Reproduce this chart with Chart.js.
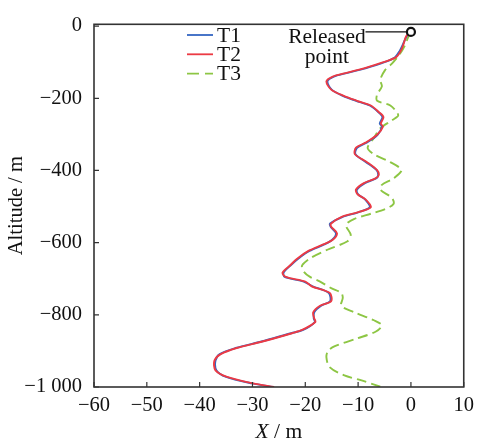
<!DOCTYPE html>
<html>
<head>
<meta charset="utf-8">
<script src="https://cdn.jsdelivr.net/npm/chart.js@4/dist/chart.umd.min.js"></script>
<style>
html,body{margin:0;padding:0;background:#fff;}
#wrap{width:480px;height:443px;}
</style>
</head>
<body>
<div id="wrap"><canvas id="c" width="480" height="443"></canvas></div>
<script>
// ---- data (X in m, altitude in m) ----
const altT2 = [-16,-28,-50,-68,-86,-100,-117,-131,-140,-153,-176,-194,-207,-220,-238,-252,-270,-279,-301,-323,-337,-355,-377,-399,-413,-422,-435,-453,-466,-480,-502,-516,-529,-547,-556,-574,-592,-605,-623,-645,-662,-683,-695,-708,-721,-739,-762,-775,-793,-810,-820,-842,-851,-874,-892,-909,-927,-954,-972,-990,-1000];
const xT2   = [0,-0.9,-1.4,-1.9,-2.8,-5.2,-8.9,-12.6,-14.8,-16,-15.1,-12.6,-10.2,-7.6,-6.1,-5.2,-5.7,-5.3,-6.4,-8.6,-10.4,-10.6,-8.3,-6.4,-6.1,-6.7,-8.9,-10.4,-10.1,-8.6,-7.6,-10.1,-13.2,-15.1,-15.1,-14,-14.8,-16.6,-19.4,-21.6,-22.8,-24.3,-23.7,-20,-18.8,-15.4,-15.1,-17.2,-18.5,-18.3,-18.1,-20.6,-22.5,-28.1,-33,-36,-37.2,-37,-34.8,-29.9,-25.9];
const altT1 = altT2;
const xT1   = [0,-0.8,-1.5,-2.1,-3.0,-5.0,-8.6,-12.4,-14.6,-15.8,-15.0,-12.8,-10.4,-7.8,-6.2,-5.4,-5.9,-5.5,-6.3,-8.4,-10.2,-10.5,-8.5,-6.5,-6.2,-6.6,-8.7,-10.2,-10.0,-8.7,-7.8,-10.0,-13.0,-15.3,-15.2,-14.2,-14.9,-16.4,-19.2,-21.4,-22.7,-24.1,-23.9,-20.3,-18.6,-15.6,-15.3,-17.0,-18.3,-18.4,-18.2,-20.4,-22.7,-28.3,-33.2,-36.2,-37.0,-36.8,-35.0,-30.1,-26.1];
const altT3 = [-16,-32,-55,-77,-104,-122,-149,-167,-189,-207,-220,-247,-261,-283,-310,-337,-355,-377,-399,-422,-440,-453,-476,-493,-507,-520,-534,-551,-578,-596,-619,-641,-663,-680,-695,-708,-726,-739,-753,-775,-793,-815,-829,-847,-865,-887,-900,-918,-945,-968,-981,-999];
const xT3   = [0,-0.55,-1.2,-2.1,-3.6,-4.9,-5.8,-5.5,-6.4,-6.4,-3.9,-2.4,-3.6,-5.8,-7,-8.2,-7,-3.9,-1.8,-3.3,-5.5,-5.8,-3.6,-3.3,-4.9,-7.6,-10.7,-12.3,-11.4,-12,-15.7,-18.8,-20.6,-20.3,-19.1,-17.2,-15.1,-13.2,-12.9,-13.2,-10.7,-7,-5.5,-6.7,-10.1,-14.4,-15.7,-16,-15.4,-12.6,-9.5,-5.8];
const releasedX = [0];
const releasedAlt = [-16];
const seriesNames = ['T1','T2','T3'];
const xTicks = [-60,-50,-40,-30,-20,-10,0,10];
const yTicks = [-1000,-800,-600,-400,-200,0];

const COLORS = ['#3466c2','#ec3a44','#8dc644'];
const FONT = '"Liberation Serif", "DejaVu Serif", serif';

function pts(xs, ys){ return xs.map((x,i)=>({x:x, y:ys[i]})); }
function fmt(v){
  const a = Math.abs(v);
  const s = a >= 1000 ? Math.floor(a/1000) + ' ' + String(a%1000).padStart(3,'0') : String(a);
  return v < 0 ? '\u2212' + s : s;
}

const deco = {
  id:'deco',
  afterDatasetsDraw(chart){
    const ctx = chart.ctx, a = chart.chartArea;
    const xs = chart.scales.x, ys = chart.scales.y;
    ctx.save();
    // inward ticks
    ctx.strokeStyle = '#333'; ctx.lineWidth = 1.2;
    ctx.beginPath();
    xTicks.forEach(v=>{ const p = xs.getPixelForValue(v); ctx.moveTo(p, a.bottom); ctx.lineTo(p, a.bottom-5); });
    yTicks.forEach(v=>{ const p = ys.getPixelForValue(v); ctx.moveTo(a.left, p); ctx.lineTo(a.left+5, p); });
    ctx.stroke();
    // frame
    ctx.strokeStyle = '#333'; ctx.lineWidth = 1.6;
    ctx.strokeRect(a.left, a.top, a.right-a.left, a.bottom-a.top);
    // legend
    ctx.font = '21.5px ' + FONT; ctx.fillStyle = '#111';
    ctx.textBaseline = 'middle'; ctx.textAlign = 'left';
    const lx = 187, ly = 35, step = 19.3;
    seriesNames.forEach((n,i)=>{
      const y = ly + i*step;
      ctx.strokeStyle = COLORS[i]; ctx.lineWidth = 1.8;
      ctx.setLineDash(i===2 ? [12,6] : []);
      ctx.beginPath(); ctx.moveTo(lx, y); ctx.lineTo(lx+26, y); ctx.stroke();
      ctx.setLineDash([]);
      ctx.fillText(n, lx+30, y+1);
    });
    // released point annotation
    const cx = xs.getPixelForValue(releasedX[0]), cy = ys.getPixelForValue(releasedAlt[0]);
    ctx.strokeStyle = '#111'; ctx.lineWidth = 1.3;
    ctx.beginPath(); ctx.moveTo(xs.getPixelForValue(-8.6), cy); ctx.lineTo(cx-4, cy); ctx.stroke();
    ctx.textAlign = 'center'; ctx.fillStyle = '#111';
    const tx = xs.getPixelForValue(-15.9);
    ctx.fillText('Released', tx, cy+5);
    ctx.fillText('point', tx, cy+25);
    // axis titles
    ctx.font = '20.5px ' + FONT;
    ctx.save();
    ctx.translate(17, (a.top+a.bottom)/2);
    ctx.rotate(-Math.PI/2);
    ctx.textAlign = 'center';
    ctx.fillText('Altitude / m', 0, 0);
    ctx.restore();
    const f1 = 'italic 21.5px ' + FONT, f2 = '21.5px ' + FONT;
    ctx.font = f1; const w1 = ctx.measureText('X').width;
    ctx.font = f2; const w2 = ctx.measureText(' / m').width;
    const mid = (a.left+a.right)/2, sx = mid - (w1+w2)/2, yy = 432;
    ctx.textAlign = 'left';
    ctx.font = f1; ctx.fillText('X', sx, yy);
    ctx.font = f2; ctx.fillText(' / m', sx+w1, yy);
    ctx.restore();
  }
};

new Chart(document.getElementById('c'), {
  type:'scatter',
  data:{ datasets:[
    {label:'T1', order:2, data:pts(xT1, altT1), showLine:true, borderColor:COLORS[0], borderWidth:1.9, pointRadius:0, tension:0.3, fill:false},
    {label:'T2', order:1, data:pts(xT2, altT2), showLine:true, borderColor:COLORS[1], borderWidth:1.9, pointRadius:0, tension:0.3, fill:false},
    {label:'T3', order:3, data:pts(xT3, altT3), showLine:true, borderColor:COLORS[2], borderWidth:1.9, borderDash:[10,5], pointRadius:0, tension:0.3, fill:false},
    {label:'Released point', order:0, data:pts(releasedX, releasedAlt), showLine:false, pointRadius:4, pointBorderWidth:2.2, borderColor:'#111', backgroundColor:'#fff', pointBackgroundColor:'#fff', pointBorderColor:'#111', clip:false}
  ]},
  options:{
    responsive:false, animation:false, maintainAspectRatio:false,
    layout:{padding:{top:12, right:9, left:0, bottom:0}},
    plugins:{legend:{display:false}, tooltip:{enabled:false}},
    scales:{
      x:{type:'linear', min:-60, max:10,
         afterBuildTicks:s=>{ s.ticks = xTicks.map(v=>({value:v})); },
         afterFit:s=>{ s.height = 56; },
         grid:{display:false, drawTicks:false}, border:{display:false},
         ticks:{font:{family:FONT, size:20.5}, color:'#111', padding:6, maxRotation:0, autoSkip:false, callback:v=>fmt(v)}},
      y:{type:'linear', min:-1000, max:5,
         afterBuildTicks:s=>{ s.ticks = yTicks.map(v=>({value:v})); },
         afterFit:s=>{ s.width = 94; },
         grid:{display:false, drawTicks:false}, border:{display:false},
         ticks:{font:{family:FONT, size:20.5}, color:'#111', padding:12, autoSkip:false, callback:v=>fmt(v)}}
    }
  },
  plugins:[deco]
});
</script>
</body>
</html>
